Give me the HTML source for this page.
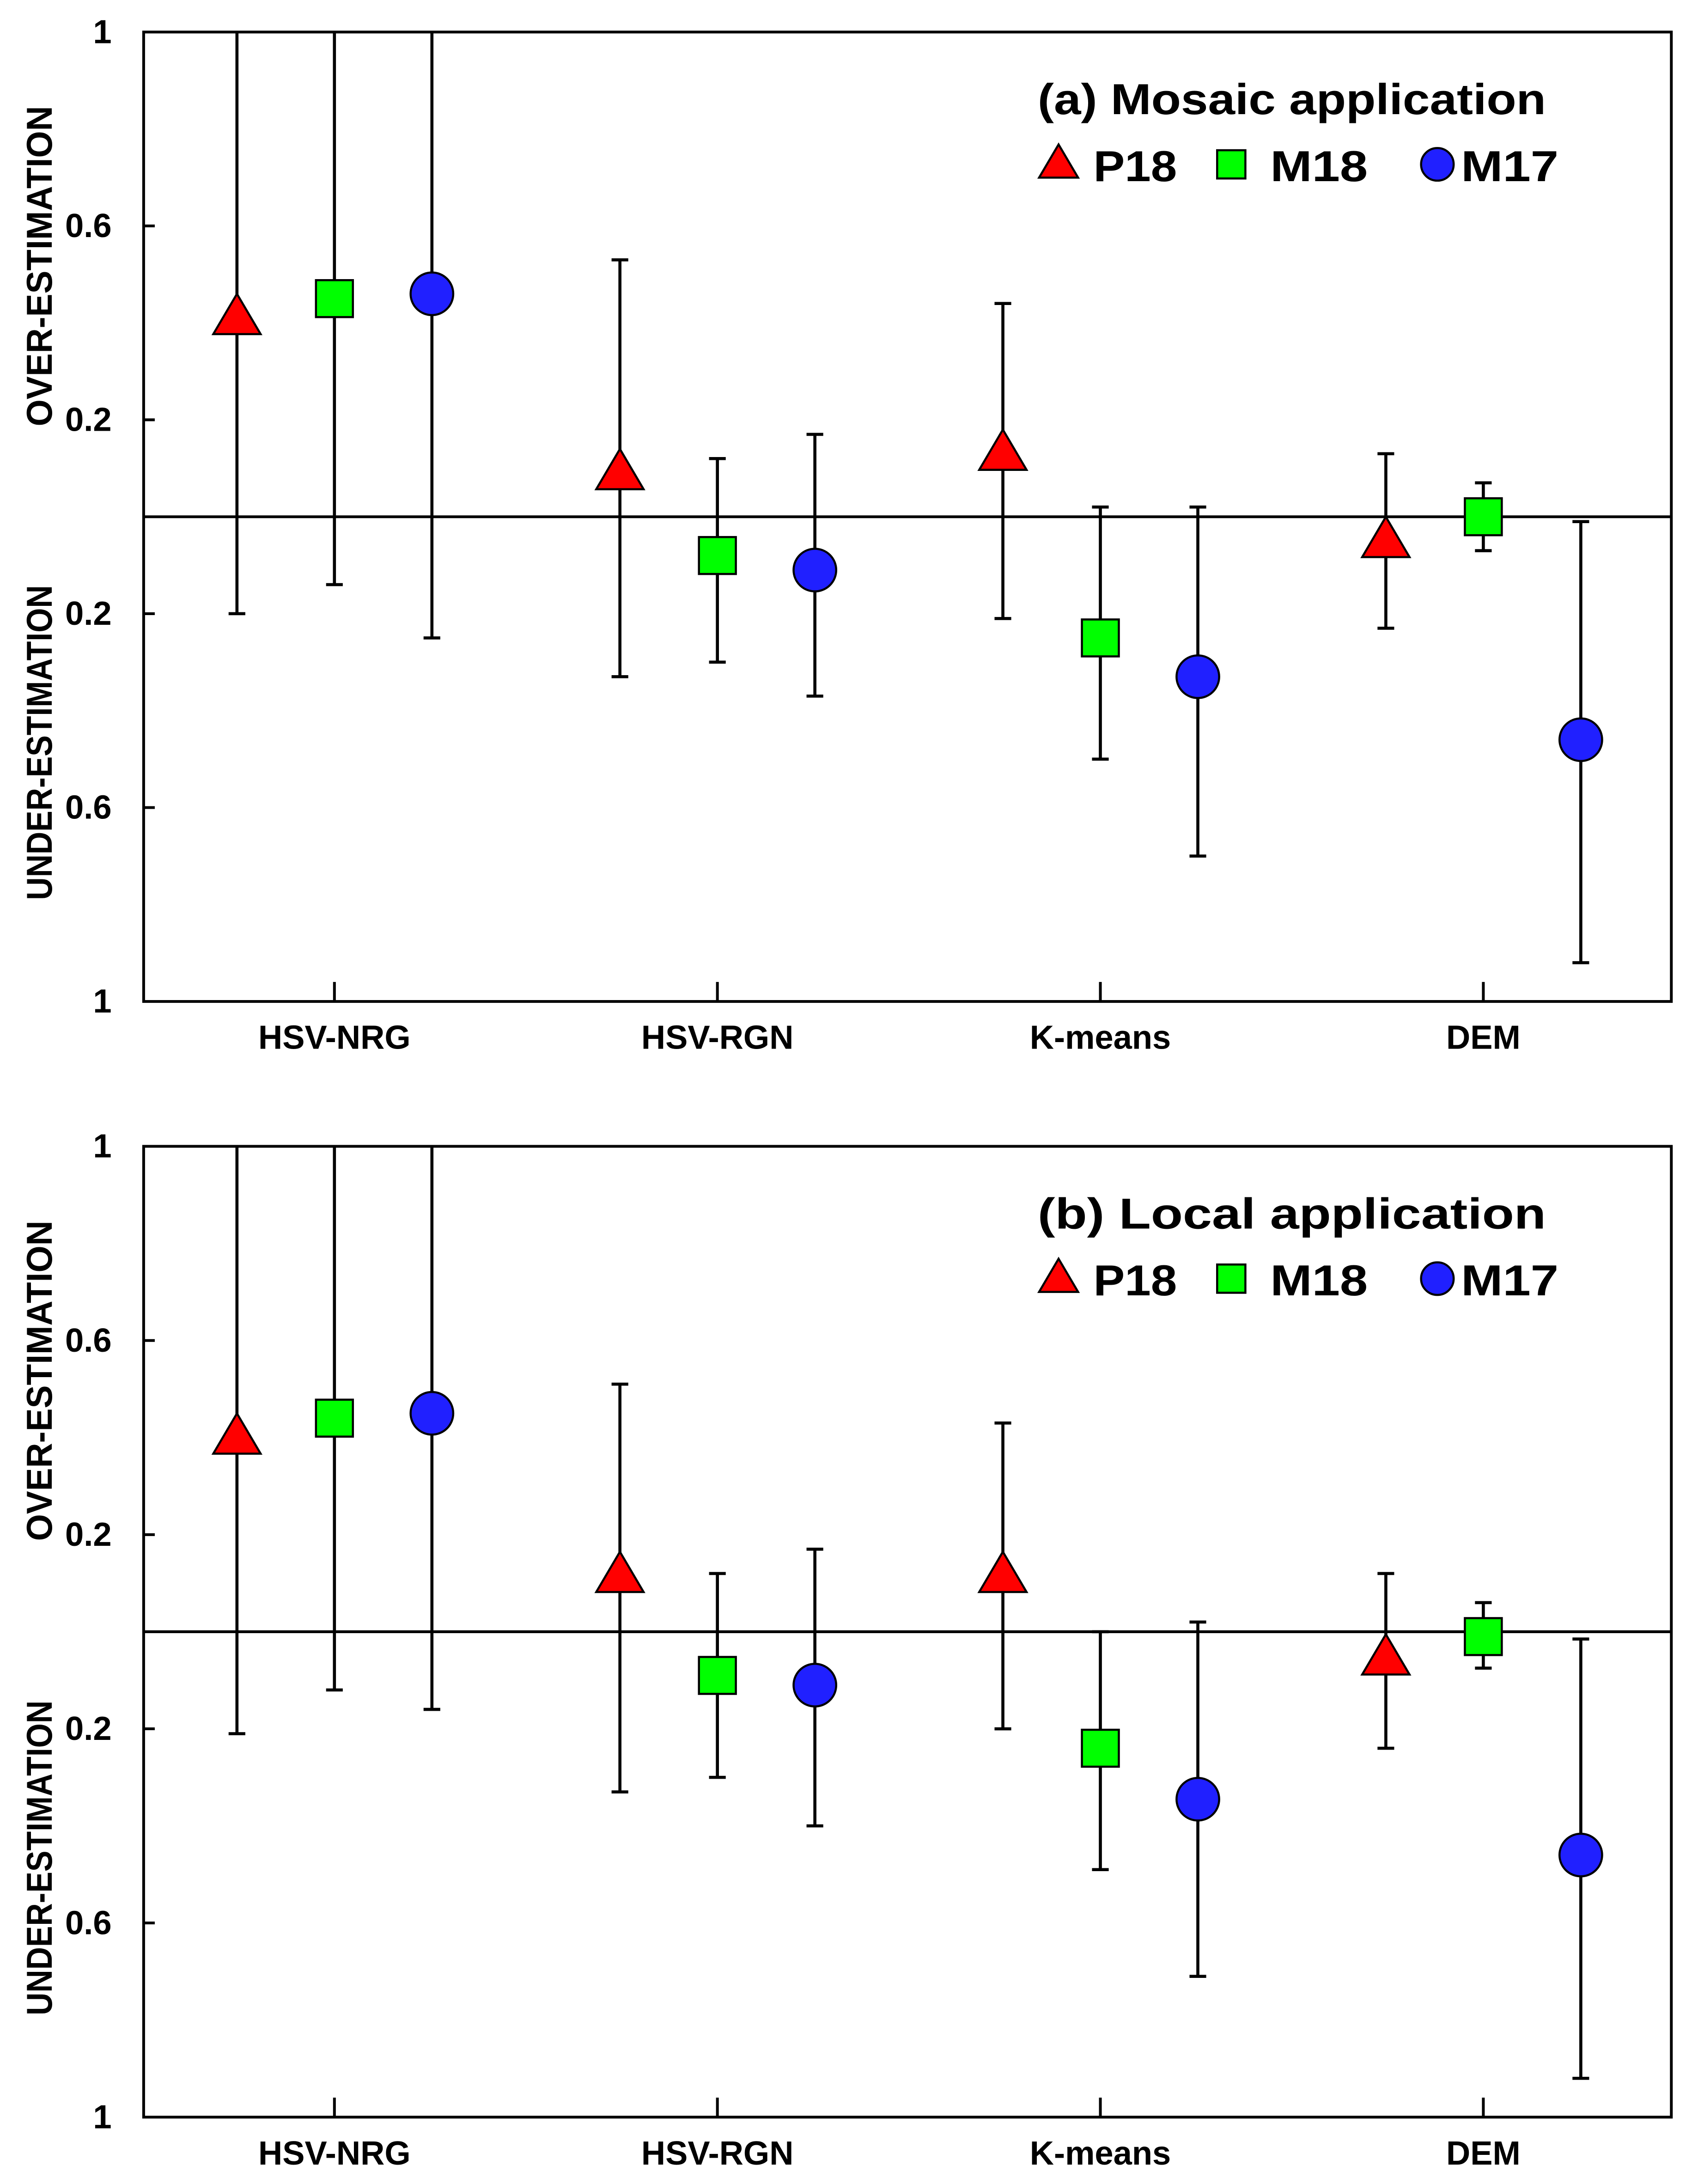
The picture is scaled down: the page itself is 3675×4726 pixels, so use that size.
<!DOCTYPE html>
<html><head><meta charset="utf-8">
<style>
html,body{margin:0;padding:0;background:#fff;}
svg{display:block;}
text{font-family:"Liberation Sans",sans-serif;font-weight:bold;fill:#000;}
</style></head>
<body>
<svg id="chart" xmlns="http://www.w3.org/2000/svg" width="3675" height="4726" viewBox="0 0 1219 1568"></svg>
<script>
const categories = ["HSV-NRG","HSV-RGN","K-means","DEM"];
const seriesNames = ["P18","M18","M17"];
const yTickLabels = ["1","0.6","0.2","0.2","0.6","1"];
const yTickValues = [1,0.6,0.2,-0.2,-0.6,-1];
// panel (a) Mosaic application: [category][series]
const aMean  = [[0.41,0.45,0.46],[0.09,-0.08,-0.11],[0.13,-0.25,-0.33],[-0.05,0.0,-0.46]];
const aUpper = [[1,1,1],[0.53,0.12,0.17],[0.44,0.02,0.02],[0.13,0.07,-0.01]];
const aLower = [[-0.20,-0.14,-0.25],[-0.33,-0.30,-0.37],[-0.21,-0.50,-0.70],[-0.23,-0.07,-0.92]];
// panel (b) Local application
const bMean  = [[0.40,0.44,0.45],[0.115,-0.09,-0.11],[0.115,-0.24,-0.345],[-0.055,-0.01,-0.46]];
const bUpper = [[1,1,1],[0.51,0.12,0.17],[0.43,0.0,0.02],[0.12,0.06,-0.015]];
const bLower = [[-0.21,-0.12,-0.16],[-0.33,-0.30,-0.40],[-0.20,-0.49,-0.71],[-0.24,-0.075,-0.92]];

const NS="http://www.w3.org/2000/svg";
const svg=document.getElementById('chart');
function mk(tag,attrs,parent){const e=document.createElementNS(NS,tag);for(const k in attrs)e.setAttribute(k,attrs[k]);(parent||svg).appendChild(e);return e;}

const L=103,R=1200;
const catX=[240,515,790,1065];
const off=[-70,0,70];
const colors=["#ff0000","#00ff00","#2020ff"];

function marker(g,s,x,y,size){
  let m;
  if(s===0){const h=size*0.85,w=size;m=mk('polygon',{points:`${x},${y-h*0.6} ${x+w/2},${y+h*0.4} ${x-w/2},${y+h*0.4}`,fill:colors[0],stroke:'#000','stroke-width':1.5},g);}
  else if(s===1){const w=size*0.78;m=mk('rect',{x:x-w/2,y:y-w/2,width:w,height:w,fill:colors[1],stroke:'#000','stroke-width':1.5},g);}
  else {m=mk('circle',{cx:x,cy:y,r:size*0.45,fill:colors[2],stroke:'#000','stroke-width':1.5},g);}
  return m;
}

function panel(id,top,bottom,title,mean,upper,lower){
  const zero=(top+bottom)/2, half=(bottom-top)/2;
  const yS=v=>zero-v*half;
  const g=mk('g',{});
  
  
  const fr=mk('rect',{x:L,y:top,width:R-L,height:bottom-top,fill:'none',stroke:'#000','stroke-width':2},g);
  
  
  const zl=mk('line',{x1:L,x2:R,y1:zero,y2:zero,stroke:'#000','stroke-width':2},g);
  
  
  yTickValues.forEach((v,i)=>{
    const y=yS(v);
    if(Math.abs(v)<1){const t=mk('line',{x1:L,x2:L+8,y1:y,y2:y,stroke:'#000','stroke-width':2},g);
      
      }
    const tx=mk('text',{x:80,y:y+8,'text-anchor':'end','font-size':24},g);
    tx.textContent=yTickLabels[i];
    
    
  });
  const o=mk('text',{x:0,y:0,'text-anchor':'middle','font-size':26,textLength:230,lengthAdjust:'spacingAndGlyphs',transform:`translate(37,${yS(0.517)}) rotate(-90)`},g);
  o.textContent='OVER-ESTIMATION';
  
  
  const u=mk('text',{x:0,y:0,'text-anchor':'middle','font-size':26,textLength:226,lengthAdjust:'spacingAndGlyphs',transform:`translate(37,${yS(-0.466)}) rotate(-90)`},g);
  u.textContent='UNDER-ESTIMATION';
  
  
  categories.forEach((c,ci)=>{
    const x=catX[ci];
    const t=mk('line',{x1:x,x2:x,y1:bottom,y2:bottom-14,stroke:'#000','stroke-width':2},g);
    
    
    const tx=mk('text',{x:x,y:bottom+34,'text-anchor':'middle','font-size':24},g);
    tx.textContent=c;
    
    
  });
  categories.forEach((c,ci)=>{
    seriesNames.forEach((s,si)=>{
      const x=catX[ci]+off[si];
      const y0=yS(Math.min(upper[ci][si],1)), y1=yS(Math.max(lower[ci][si],-1));
      const b=mk('line',{x1:x,x2:x,y1:y0,y2:y1,stroke:'#000','stroke-width':2.2},g);
      
      
      if(upper[ci][si]<1){const cp=mk('line',{x1:x-6,x2:x+6,y1:y0,y2:y0,stroke:'#000','stroke-width':2.2},g);
        
        }
      if(lower[ci][si]>-1){const cp=mk('line',{x1:x-6,x2:x+6,y1:y1,y2:y1,stroke:'#000','stroke-width':2.2},g);
        
        }
      const m=marker(g,si,x,yS(mean[ci][si]),34);
      
      
    });
  });
  const tt=mk('text',{x:745,y:top+59,'font-size':31,textLength:365,lengthAdjust:'spacingAndGlyphs','xml:space':'preserve'},g);
  tt.textContent=title;
  
  
  const lx=[760,884,1032], tx=[785,912,1049];
  seriesNames.forEach((s,si)=>{
    const ly=top+95;
    const m=marker(g,si,lx[si],ly,si===0?28:26);
    
    
    const t=mk('text',{x:tx[si],y:ly+12,'font-size':31,textLength:si===0?60:70,lengthAdjust:'spacingAndGlyphs'},g);
    t.textContent=s;
    
    
  });
}
panel('a',23,719,'(a)   Mosaic application',aMean,aUpper,aLower);
panel('b',823,1520,'(b)  Local application',bMean,bUpper,bLower);
</script>
</body></html>
